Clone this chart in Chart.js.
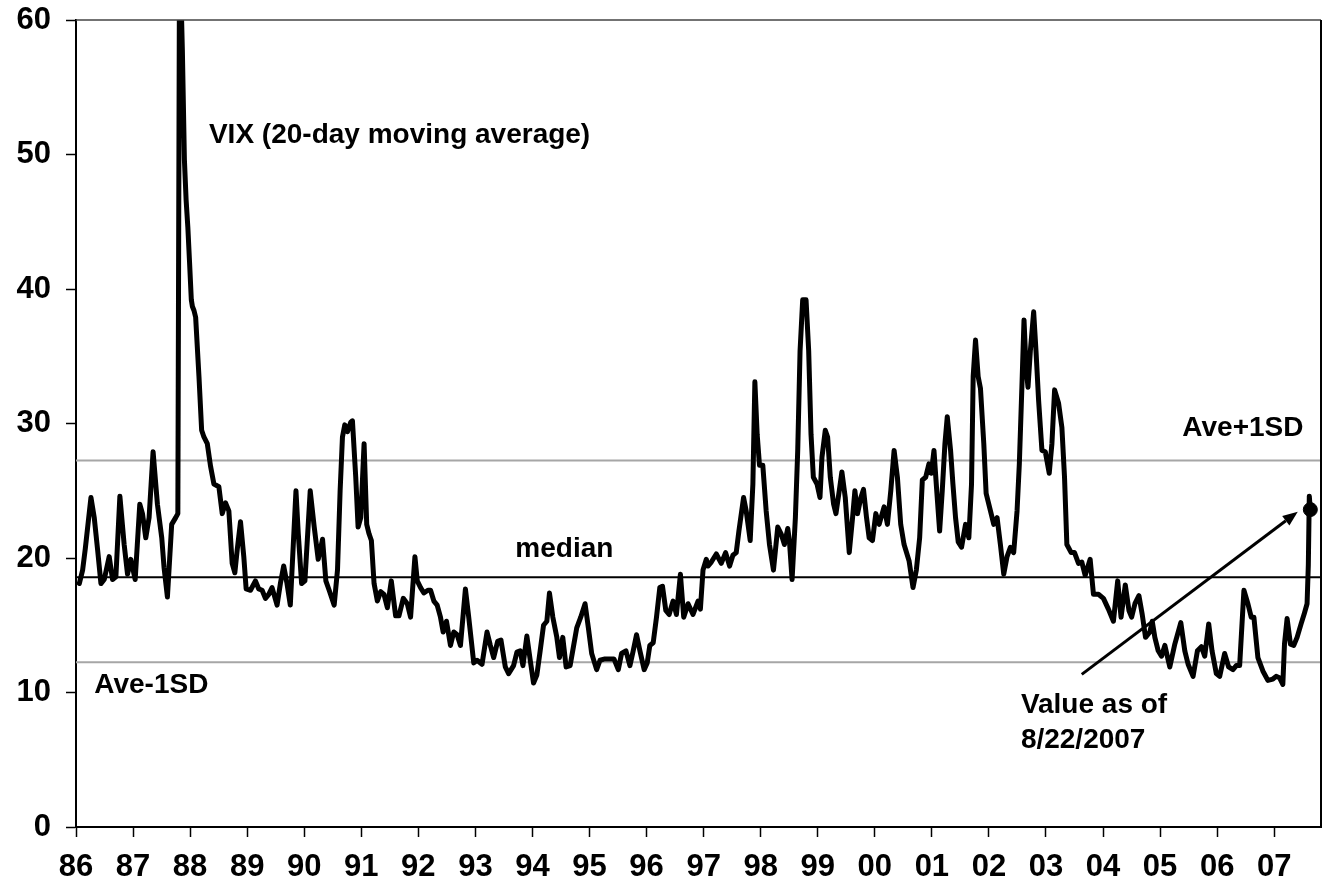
<!DOCTYPE html>
<html>
<head>
<meta charset="utf-8">
<script src="https://cdn.jsdelivr.net/npm/chart.js@4/dist/chart.umd.min.js"></script>
<style>
  html, body { margin: 0; padding: 0; background: #fff; overflow: hidden; }
  canvas { display: block; }
</style>
</head>
<body>
<canvas id="c" width="1329" height="879"></canvas>
<script>
// ---- Data ----
const yearTicks = [1986,1987,1988,1989,1990,1991,1992,1993,1994,1995,1996,1997,1998,1999,2000,2001,2002,2003,2004,2005,2006,2007];
const yearTickLabels = ['86','87','88','89','90','91','92','93','94','95','96','97','98','99','00','01','02','03','04','05','06','07'];
const valueTicks = [0,10,20,30,40,50,60];

const vixDates = [
1986.058,1986.116,1986.163,1986.262,1986.320,1986.379,1986.437,1986.495,1986.582,1986.641,1986.699,1986.769,1986.844,1986.903,1986.961,
1987.037,1987.118,1987.165,1987.223,1987.281,1987.351,1987.427,1987.503,1987.543,1987.602,1987.677,1987.747,1987.785,1987.815,1987.864,1987.900,1987.930,1987.960,1987.990,
1988.021,1988.040,1988.068,1988.097,1988.155,1988.202,1988.242,1988.301,1988.359,1988.417,1988.504,1988.563,1988.621,1988.679,1988.737,1988.784,1988.825,1988.883,1988.941,1988.982,
1989.058,1989.145,1989.203,1989.262,1989.320,1989.378,1989.436,1989.524,1989.582,1989.640,1989.698,1989.756,1989.855,1989.896,1989.954,
1990.012,1990.105,1990.175,1990.245,1990.321,1990.379,1990.437,1990.525,1990.583,1990.629,1990.670,1990.711,1990.758,1990.816,1990.845,1990.903,1990.944,1990.991,
1991.049,1991.095,1991.136,1991.177,1991.224,1991.282,1991.340,1991.398,1991.457,1991.526,1991.602,1991.660,1991.736,1991.806,1991.864,1991.940,1991.981,
1992.039,1992.097,1992.167,1992.214,1992.272,1992.330,1992.388,1992.435,1992.493,1992.563,1992.621,1992.680,1992.738,1992.825,1992.883,1992.971,
1993.029,1993.116,1993.204,1993.262,1993.320,1993.390,1993.448,1993.524,1993.582,1993.669,1993.728,1993.786,1993.833,1993.902,1993.961,
1994.019,1994.077,1994.135,1994.194,1994.252,1994.298,1994.357,1994.427,1994.473,1994.531,1994.590,1994.660,1994.718,1994.776,1994.846,1994.922,1994.980,
1995.038,1995.125,1995.184,1995.271,1995.358,1995.428,1995.504,1995.562,1995.638,1995.708,1995.766,1995.824,1995.883,1995.958,
1996.011,1996.057,1996.116,1996.174,1996.232,1996.279,1996.337,1996.395,1996.465,1996.523,1996.593,1996.651,1996.727,1996.814,1996.902,1996.943,1996.989,
1997.047,1997.076,1997.135,1997.222,1997.309,1997.385,1997.455,1997.513,1997.571,1997.618,1997.700,1997.746,1997.816,1997.863,1997.898,1997.938,1997.979,
1998.037,1998.096,1998.154,1998.224,1998.299,1998.358,1998.416,1998.474,1998.503,1998.550,1998.608,1998.649,1998.690,1998.736,1998.795,1998.841,1998.882,1998.923,1998.987,
1999.039,1999.074,1999.132,1999.173,1999.220,1999.278,1999.319,1999.377,1999.423,1999.482,1999.552,1999.610,1999.651,1999.697,1999.756,1999.802,1999.855,1999.901,1999.959,
2000.018,2000.076,2000.163,2000.221,2000.280,2000.338,2000.396,2000.454,2000.513,2000.600,2000.670,2000.728,2000.786,2000.833,2000.891,2000.949,2000.990,
2001.037,2001.077,2001.136,2001.182,2001.229,2001.270,2001.328,2001.369,2001.415,2001.462,2001.520,2001.590,2001.648,2001.695,2001.724,2001.765,2001.811,2001.852,2001.910,2001.951,
2002.027,2002.085,2002.143,2002.201,2002.260,2002.318,2002.376,2002.434,2002.493,2002.533,2002.580,2002.615,2002.650,2002.685,2002.726,2002.784,2002.825,2002.871,2002.929,2002.988,
2003.057,2003.104,2003.151,2003.221,2003.279,2003.325,2003.366,2003.442,2003.500,2003.570,2003.628,2003.687,2003.774,2003.832,2003.919,
2004.007,2004.094,2004.182,2004.257,2004.316,2004.390,2004.454,2004.501,2004.559,2004.629,2004.687,2004.745,2004.821,2004.862,2004.908,2004.967,
2005.025,2005.083,2005.170,2005.258,2005.363,2005.433,2005.491,2005.578,2005.654,2005.724,2005.782,2005.852,2005.910,2005.986,
2006.044,2006.131,2006.201,2006.277,2006.335,2006.394,2006.469,2006.539,2006.597,2006.644,2006.714,2006.801,2006.889,2006.976,
2007.034,2007.093,2007.151,2007.180,2007.226,2007.285,2007.343,2007.401,2007.471,2007.529,2007.576,2007.598,2007.615,2007.633
];
const vixValues = [
18.1,19.1,20.7,24.5,23.0,20.6,18.1,18.4,20.1,18.4,18.6,24.6,21.0,18.8,19.9,
18.4,24.0,23.3,21.5,23.0,27.9,24.0,21.5,19.3,17.1,22.5,23.0,23.3,66.0,57.8,49.6,46.6,44.6,42.0,
39.2,38.7,38.4,37.9,33.5,29.5,29.0,28.5,26.8,25.5,25.3,23.3,24.1,23.5,19.6,18.9,20.6,22.7,20.1,17.7,
17.6,18.3,17.7,17.6,17.0,17.3,17.8,16.5,18.1,19.4,18.1,16.5,25.0,21.8,18.1,
18.3,25.0,22.3,19.9,21.4,18.3,17.6,16.5,19.1,25.0,29.0,29.9,29.4,30.1,30.2,26.0,22.3,23.0,
28.5,22.5,21.8,21.3,18.1,16.8,17.5,17.3,16.3,18.3,15.7,15.7,17.0,16.6,15.6,20.1,18.3,
17.8,17.4,17.6,17.6,16.8,16.5,15.6,14.5,15.3,13.5,14.5,14.3,13.5,17.7,15.6,12.2,
12.4,12.1,14.5,13.5,12.6,13.8,13.9,11.9,11.4,12.0,13.0,13.1,12.0,14.2,12.4,
10.7,11.3,13.1,15.0,15.3,17.4,15.6,14.1,12.6,14.1,11.9,12.0,13.4,14.8,15.6,16.6,14.8,
12.9,11.7,12.4,12.5,12.5,12.5,11.7,12.9,13.1,12.0,13.1,14.3,13.1,11.7,
12.2,13.5,13.7,15.6,17.8,17.9,16.1,15.8,16.8,15.8,18.8,15.6,16.6,15.8,16.8,16.2,19.1,
19.9,19.4,19.7,20.3,19.6,20.4,19.4,20.2,20.4,22.0,24.5,23.5,21.3,25.5,33.1,29.2,26.9,
26.9,23.5,21.0,19.1,22.3,21.8,21.0,22.2,21.3,18.4,23.0,28.0,35.4,39.2,39.2,35.4,29.2,26.0,25.5,
24.5,27.5,29.5,29.0,26.0,24.0,23.3,25.0,26.4,24.5,20.4,23.0,25.0,23.3,24.5,25.1,23.0,21.5,21.3,
23.3,22.5,23.8,22.5,25.0,28.0,26.0,22.5,21.0,19.8,17.8,19.1,21.5,25.8,26.0,27.0,26.3,
28.0,25.5,22.0,25.0,28.5,30.5,28.0,25.5,23.0,21.2,20.8,22.5,21.5,25.5,33.5,36.2,33.5,32.6,28.5,24.8,
23.5,22.5,23.0,21.0,18.8,20.1,20.8,20.4,23.5,27.0,33.0,37.7,34.2,32.7,35.4,38.3,35.4,31.7,28.0,27.9,
26.3,28.5,32.5,31.5,29.7,26.0,21.0,20.4,20.4,19.6,19.7,18.7,19.9,17.3,17.3,
17.0,16.2,15.3,18.3,15.6,18.0,16.1,15.6,16.6,17.2,15.8,14.1,14.5,15.3,14.1,13.1,
12.7,13.5,11.9,13.6,15.2,13.1,12.1,11.2,13.1,13.4,12.7,15.1,13.1,11.4,
11.2,12.9,11.9,11.7,12.0,12.0,17.6,16.6,15.6,15.6,12.6,11.6,10.9,11.0,
11.2,11.1,10.6,13.6,15.5,13.6,13.5,14.1,15.1,15.9,16.6,19.5,24.6,23.6
];

// Reference levels
const refNames = ['Ave+1SD', 'median', 'Ave-1SD'];
const refValues = [27.25, 18.56, 12.25];

// Latest value (8/22/2007)
const latestDate = [2007.633];
const latestValue = [23.6];

// ---- Chart ----
const X_MIN = 1986, X_MAX = 2007.82;
const FONT = '"Liberation Sans", Arial, Helvetica, sans-serif';

const vixPoints = vixDates.map((d, i) => ({ x: d, y: vixValues[i] }));
const refStyles = ['#a6a6a6', '#000000', '#a6a6a6'];
const refDatasets = refValues.map((v, i) => ({
  label: refNames[i],
  data: [{ x: X_MIN, y: v }, { x: X_MAX, y: v }],
  borderColor: refStyles[i],
  borderWidth: 2,
  pointRadius: 0,
  order: 3
}));

const annotations = {
  texts: [
    { text: 'VIX (20-day moving average)', x: 1988.33, y: 50.86 },
    { text: 'median', x: 1993.70, y: 20.07 },
    { text: 'Ave+1SD', x: 2005.39, y: 29.05 },
    { text: 'Ave-1SD', x: 1986.32, y: 9.96 },
    { text: 'Value as of', x: 2002.56, y: 8.45 },
    { text: '8/22/2007', x: 2002.56, y: 5.9 }
  ],
  arrow: { from: { x: 2003.627, y: 11.35 }, to: { x: 2007.413, y: 23.44 } }
};

const annotPlugin = {
  id: 'annot',
  afterDatasetsDraw(chart) {
    const { ctx, scales: { x, y } } = chart;
    ctx.save();
    const a = annotations.arrow;
    const x1 = x.getPixelForValue(a.from.x), y1 = y.getPixelForValue(a.from.y);
    const x2 = x.getPixelForValue(a.to.x), y2 = y.getPixelForValue(a.to.y);
    const ang = Math.atan2(y2 - y1, x2 - x1);
    const hl = 15, hw = 6;
    ctx.strokeStyle = '#000';
    ctx.lineWidth = 3;
    ctx.beginPath();
    ctx.moveTo(x1, y1);
    ctx.lineTo(x2 - hl * Math.cos(ang), y2 - hl * Math.sin(ang));
    ctx.stroke();
    ctx.fillStyle = '#000';
    ctx.beginPath();
    ctx.moveTo(x2, y2);
    ctx.lineTo(x2 - hl * Math.cos(ang) + hw * Math.sin(ang), y2 - hl * Math.sin(ang) - hw * Math.cos(ang));
    ctx.lineTo(x2 - hl * Math.cos(ang) - hw * Math.sin(ang), y2 - hl * Math.sin(ang) + hw * Math.cos(ang));
    ctx.closePath();
    ctx.fill();
    ctx.font = 'bold 28px ' + FONT;
    ctx.textAlign = 'left';
    ctx.textBaseline = 'alphabetic';
    annotations.texts.forEach(t => {
      ctx.fillText(t.text, x.getPixelForValue(t.x), y.getPixelForValue(t.y));
    });
    ctx.restore();
  },
  afterDraw(chart) {
    const { ctx, chartArea: c } = chart;
    ctx.save();
    ctx.strokeStyle = '#444';
    ctx.lineWidth = 1.5;
    ctx.beginPath();
    ctx.moveTo(c.left, c.top);
    ctx.lineTo(c.right, c.top);
    ctx.stroke();
    ctx.strokeStyle = '#000';
    ctx.lineWidth = 2;
    ctx.beginPath();
    ctx.moveTo(c.right, c.top);
    ctx.lineTo(c.right, c.bottom);
    ctx.stroke();
    ctx.restore();
  }
};

new Chart(document.getElementById('c'), {
  type: 'line',
  data: {
    datasets: [
      {
        label: 'Latest',
        data: latestDate.map((d, i) => ({ x: d, y: latestValue[i] })),
        showLine: false,
        pointRadius: 7,
        pointBackgroundColor: '#000',
        pointBorderColor: '#000',
        order: 0
      },
      {
        label: 'VIX (20-day moving average)',
        data: vixPoints,
        borderColor: '#000',
        borderWidth: 5,
        pointRadius: 0,
        tension: 0,
        borderJoinStyle: 'round',
        borderCapStyle: 'round',
        order: 1
      },
      ...refDatasets
    ]
  },
  options: {
    responsive: false,
    devicePixelRatio: 1,
    animation: false,
    layout: { padding: { top: 20, right: 3, bottom: 0, left: 0 } },
    plugins: { legend: { display: false }, tooltip: { enabled: false } },
    scales: {
      x: {
        type: 'linear',
        min: X_MIN,
        max: X_MAX,
        afterBuildTicks: (axis) => { axis.ticks = yearTicks.map(v => ({ value: v })); },
        afterFit: (axis) => { axis.height = 52; axis.paddingLeft = 0; axis.paddingRight = 0; },
        ticks: {
          autoSkip: false,
          maxRotation: 0,
          padding: 12,
          color: '#000',
          font: { family: FONT, size: 31, weight: 'bold' },
          callback: (v) => { const i = yearTicks.indexOf(v); return i >= 0 ? yearTickLabels[i] : ''; }
        },
        grid: { drawOnChartArea: false, drawTicks: true, tickLength: 10, tickColor: '#000', tickWidth: 1.5 },
        border: { display: true, color: '#000', width: 2 }
      },
      y: {
        min: 0,
        max: 60,
        afterBuildTicks: (axis) => { axis.ticks = valueTicks.map(v => ({ value: v })); },
        afterFit: (axis) => { axis.width = 76; axis.paddingTop = 0; axis.paddingBottom = 0; },
        ticks: {
          padding: 15,
          color: '#000',
          font: { family: FONT, size: 31, weight: 'bold' }
        },
        grid: { drawOnChartArea: false, drawTicks: true, tickLength: 10, tickColor: '#000', tickWidth: 1.5 },
        border: { display: true, color: '#000', width: 2 }
      }
    }
  },
  plugins: [annotPlugin]
});
</script>
</body>
</html>
